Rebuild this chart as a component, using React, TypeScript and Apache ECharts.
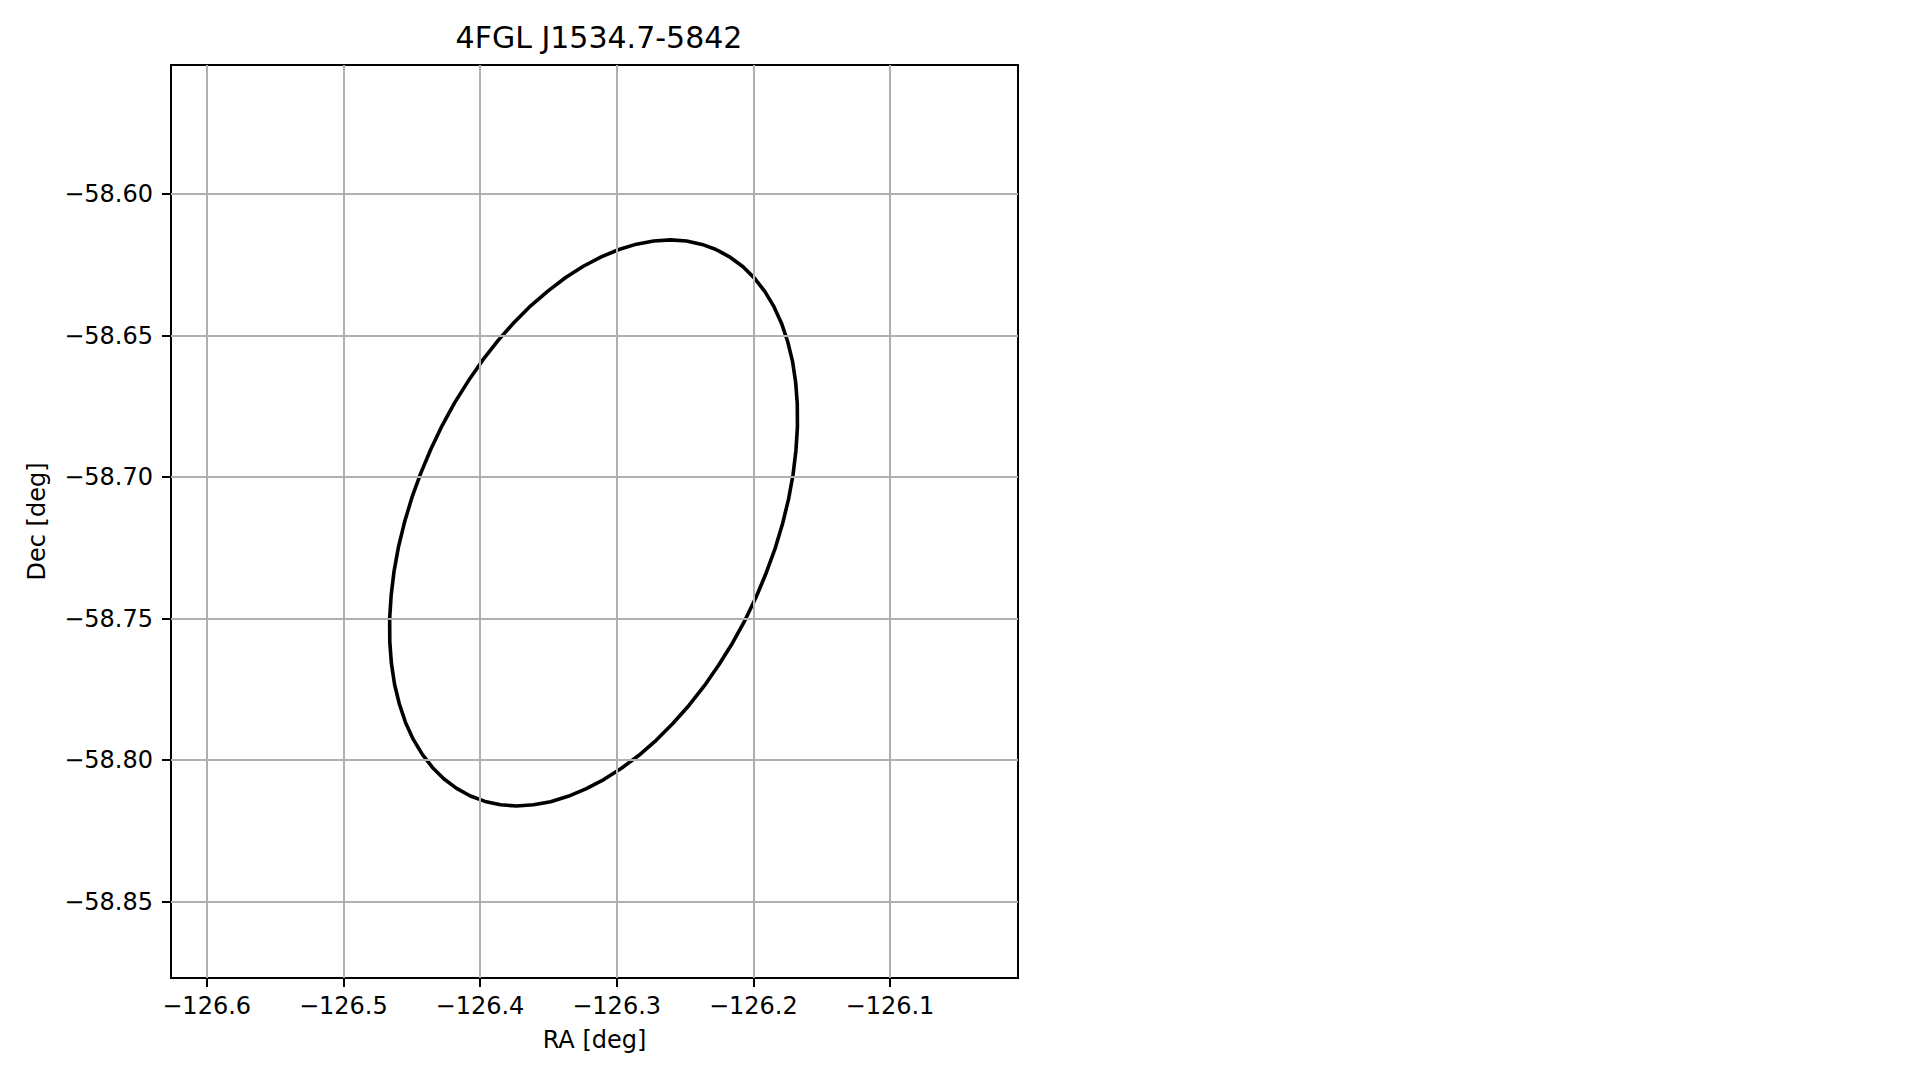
import React, { useEffect, useRef } from "react";
import * as echarts from "echarts";

const titleText = "4FGL J1534.7-5842";
const xName = "RA [deg]";
const yName = "Dec [deg]";

const xTicks = [-126.6, -126.5, -126.4, -126.3, -126.2, -126.1];
const yTicks = [-58.85, -58.8, -58.75, -58.7, -58.65, -58.6];

const xMin = -126.6261;
const xMax = -126.0063;
const yMin = -58.877;
const yMax = -58.5544;

const raValues = [
  -126.2268, -126.2167, -126.2075, -126.199, -126.1915, -126.1849, -126.1793, -126.1748, -126.1713,
  -126.169, -126.1678, -126.1677, -126.1688, -126.1709, -126.1742, -126.1786, -126.184, -126.1905,
  -126.1979, -126.2062, -126.2153, -126.2253, -126.2359, -126.2471, -126.2589, -126.2711, -126.2837,
  -126.2965, -126.3094, -126.3225, -126.3355, -126.3483, -126.3609, -126.3732, -126.385, -126.3963,
  -126.407, -126.4171, -126.4263, -126.4348, -126.4423, -126.4489, -126.4545, -126.459, -126.4625,
  -126.4648, -126.466, -126.4661, -126.465, -126.4629, -126.4596, -126.4552, -126.4498, -126.4433,
  -126.4359, -126.4276, -126.4185, -126.4085, -126.3979, -126.3867, -126.3749, -126.3627, -126.3501,
  -126.3373, -126.3244, -126.3113, -126.2983, -126.2855, -126.2729, -126.2606, -126.2488, -126.2375,
  -126.2268,
];
const decValues = [
  -58.6197, -58.6224, -58.6257, -58.6298, -58.6345, -58.6398, -58.6457, -58.6522, -58.6591,
  -58.6665, -58.6742, -58.6823, -58.6906, -58.6991, -58.7078, -58.7165, -58.7252, -58.7338,
  -58.7424, -58.7507, -58.7587, -58.7664, -58.7738, -58.7807, -58.7871, -58.793, -58.7983,
  -58.8029, -58.8069, -58.8102, -58.8128, -58.8147, -58.8158, -58.8162, -58.8158, -58.8146,
  -58.8127, -58.81, -58.8067, -58.8026, -58.7979, -58.7926, -58.7867, -58.7802, -58.7733,
  -58.7659, -58.7582, -58.7501, -58.7418, -58.7333, -58.7246, -58.7159, -58.7072, -58.6986,
  -58.6901, -58.6817, -58.6737, -58.666, -58.6586, -58.6517, -58.6453, -58.6394, -58.6342,
  -58.6295, -58.6255, -58.6222, -58.6196, -58.6177, -58.6166, -58.6162, -58.6166, -58.6178,
  -58.6197,
];

const FONT = "DejaVu Sans";

export default function App() {
  const ref = useRef<HTMLDivElement>(null);
  useEffect(() => {
    if (!ref.current) return;
    const chart = echarts.init(ref.current, null, { renderer: "svg" });
    const ellipse = raValues.map((v, i) => [v, decValues[i]]);
    const gridLines = [
      ...xTicks.map((v) => ({ xAxis: v })),
      ...yTicks.map((v) => ({ yAxis: v })),
    ];
    chart.setOption({
      animation: false,
      backgroundColor: "#ffffff",
      title: {
        text: titleText,
        left: 594,
        top: 17,
        textAlign: "center",
        textStyle: { fontFamily: FONT, fontSize: 30, fontWeight: "normal", color: "#000" },
      },
      grid: {
        left: 171,
        top: 65,
        width: 847,
        height: 913,
        show: true,
        borderColor: "#000",
        borderWidth: 2,
        backgroundColor: "#fff",
      },
      xAxis: {
        type: "value",
        min: xMin,
        max: xMax,
        name: xName,
        nameLocation: "middle",
        nameGap: 50,
        nameTextStyle: { fontFamily: FONT, fontSize: 24, color: "#000" },
        axisLine: { show: true, onZero: false, lineStyle: { color: "#000", width: 2 } },
        axisTick: {
          show: true,
          inside: false,
          length: 9,
          customValues: xTicks,
          lineStyle: { color: "#000", width: 2 },
        },
        axisLabel: {
          show: true,
          margin: 16,
          customValues: xTicks,
          fontFamily: FONT,
          fontSize: 24,
          color: "#000",
          formatter: (v: number) => v.toFixed(1).replace("-", "\u2212"),
        },
        splitLine: { show: false },
      },
      yAxis: {
        type: "value",
        min: yMin,
        max: yMax,
        name: yName,
        nameLocation: "middle",
        nameGap: 122,
        nameTextStyle: { fontFamily: FONT, fontSize: 24, color: "#000" },
        axisLine: { show: true, onZero: false, lineStyle: { color: "#000", width: 2 } },
        axisTick: {
          show: true,
          inside: false,
          length: 9,
          customValues: yTicks,
          lineStyle: { color: "#000", width: 2 },
        },
        axisLabel: {
          show: true,
          margin: 18,
          customValues: yTicks,
          fontFamily: FONT,
          fontSize: 24,
          color: "#000",
          formatter: (v: number) => v.toFixed(2).replace("-", "\u2212"),
        },
        splitLine: { show: false },
      },
      series: [
        {
          type: "line",
          data: [],
          z: 1,
          silent: true,
          markLine: {
            silent: true,
            symbol: ["none", "none"],
            label: { show: false },
            lineStyle: { color: "#b0b0b0", width: 2, type: "solid" },
            emphasis: { disabled: true },
            data: gridLines,
          },
        },
        {
          type: "line",
          data: ellipse,
          z: 3,
          showSymbol: false,
          symbol: "none",
          smooth: false,
          lineStyle: { color: "#000", width: 3.6 },
          silent: true,
        },
      ],
    });
    return () => chart.dispose();
  }, []);
  return (
    <div
      ref={ref}
      style={{ position: "fixed", left: 0, top: 0, width: 1919, height: 1080, background: "#fff" }}
    />
  );
}
